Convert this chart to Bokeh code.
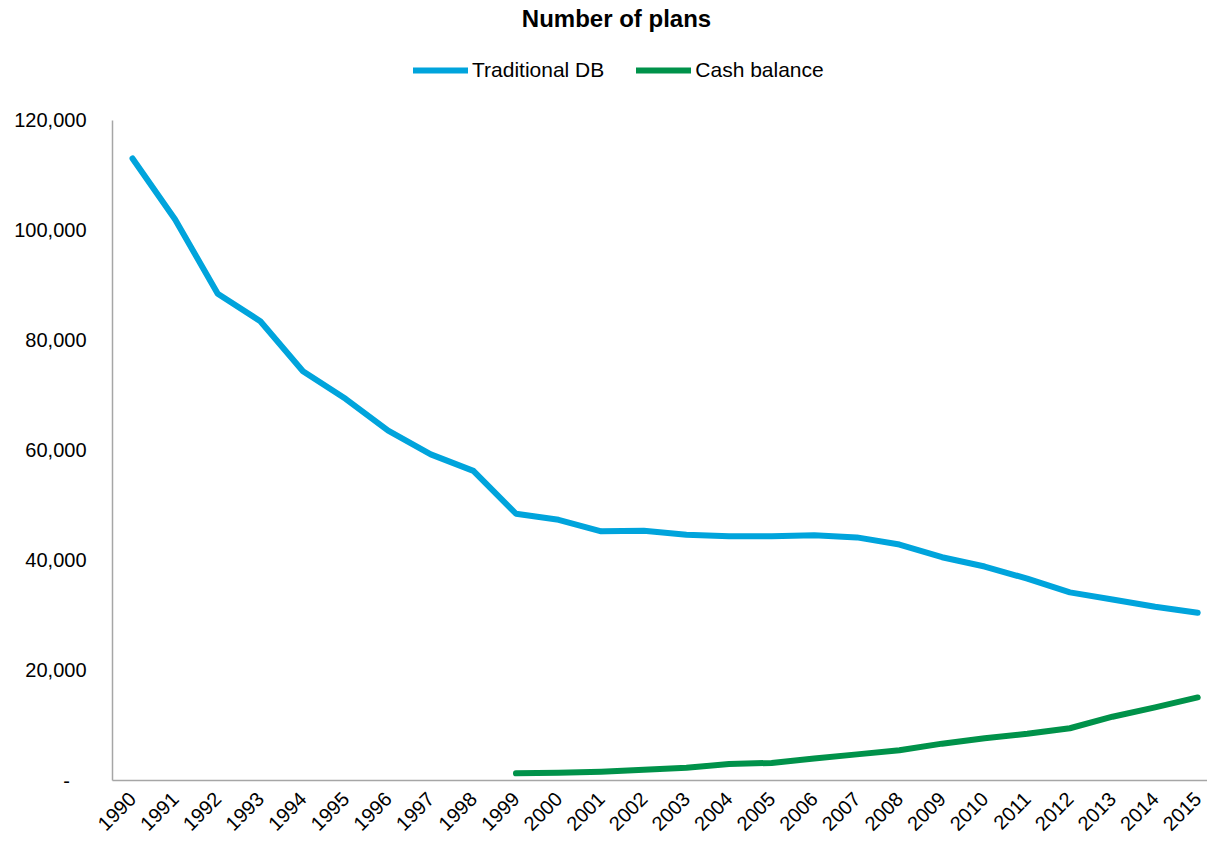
from bokeh.plotting import figure
from bokeh.models import Range1d, FixedTicker, NumeralTickFormatter, Legend, LegendItem, Label
from bokeh.embed import file_html
from bokeh.resources import INLINE
import math

years = list(range(1990, 2016))
traditional_db = [113100, 102000, 88500, 83500, 74400, 69400, 63600, 59300, 56300, 48500,
                  47400, 45300, 45400, 44700, 44400, 44400, 44600, 44200, 42900, 40600,
                  38900, 36700, 34200, 32900, 31600, 30500]
cash_years = list(range(1999, 2016))
cash_balance = [1300, 1400, 1600, 1950, 2300, 3000, 3200, 4000, 4750, 5500, 6700,
                7700, 8500, 9500, 11600, 13300, 15100]
y_ticks = [0, 20000, 40000, 60000, 80000, 100000, 120000]

FONT = "Liberation Sans"
BLUE = "#00a4dc"
GREEN = "#00924a"

# frame spans the whole page height above the x axis, so the title and legend
# can sit inside it; the y axis line is bounded to 0..120,000
p = figure(width=1207, height=842, output_backend="svg", toolbar_location=None,
           x_range=Range1d(1989.53, 2015.23), y_range=Range1d(0, 141818),
           min_border_left=112, min_border_right=0, min_border_top=0, min_border_bottom=62)
p.outline_line_color = None
p.xgrid.grid_line_color = None
p.ygrid.grid_line_color = None
p.background_fill_color = "white"

r1 = p.line(years, traditional_db, line_color=BLUE, line_width=6, line_cap="round", line_join="round")
r2 = p.line(cash_years, cash_balance, line_color=GREEN, line_width=6, line_cap="round", line_join="round")

# axes
p.xaxis.ticker = FixedTicker(ticks=years)
p.yaxis.ticker = FixedTicker(ticks=y_ticks)
p.yaxis.bounds = (0, 120000)
p.yaxis.formatter = NumeralTickFormatter(format="0,0")
p.yaxis.major_label_overrides = {0: "-\u00a0\u00a0\u00a0"}
for ax in (p.xaxis[0], p.yaxis[0]):
    ax.axis_line_color = "#a6a6a6"
    ax.axis_line_width = 1.5
    ax.major_tick_line_color = None
    ax.minor_tick_line_color = None
    ax.major_tick_out = 0
    ax.major_tick_in = 0
    ax.major_label_text_font = FONT
    ax.major_label_text_font_size = "20px"
    ax.major_label_text_color = "#000000"
p.yaxis.major_label_standoff = 26
p.xaxis.major_label_orientation = math.pi / 4
p.xaxis.major_label_standoff = 15

legend = Legend(items=[LegendItem(label="Traditional DB", renderers=[r1]),
                       LegendItem(label="Cash balance", renderers=[r2])],
                orientation="horizontal", location=(301, 698),
                padding=0, margin=0, spacing=32, label_standoff=4,
                glyph_width=55, glyph_height=20, label_height=20,
                border_line_color=None, background_fill_alpha=0,
                label_text_font=FONT, label_text_font_size="21px", label_text_color="#000000")
p.add_layout(legend, "center")

title = Label(x=504, y=762, x_units="screen", y_units="screen", text="Number of plans",
              text_font=FONT, text_font_size="24px", text_font_style="bold",
              text_align="center", text_baseline="middle", text_color="#000000")
p.add_layout(title)

open("out.html", "w").write(file_html(p, INLINE))
